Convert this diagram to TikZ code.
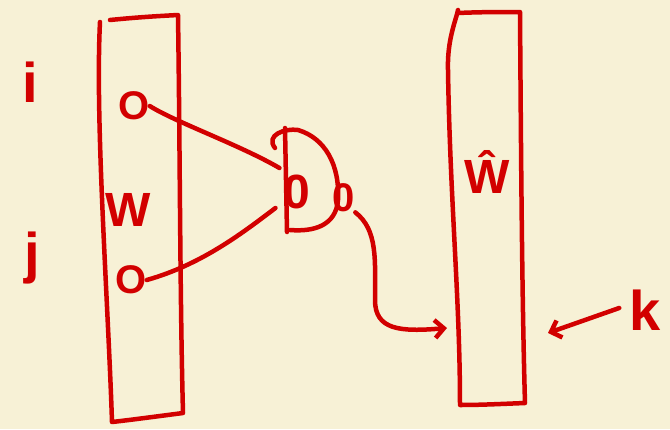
\documentclass[tikz,border=0pt]{standalone}
\usepackage{fontspec}
\setmainfont{Liberation Sans}
\usetikzlibrary{arrows.meta}
\definecolor{bg}{HTML}{F7F1D6}
\definecolor{ink}{HTML}{D20000}
\begin{document}
\begin{tikzpicture}[x=1pt,y=-1pt,
  inkline/.style={draw=ink,line width=4.5pt,line cap=round,line join=round},
  big/.style={text=ink,inner sep=0pt,font=\fontsize{56}{56}\selectfont\bfseries},
  lbl/.style={text=ink,inner sep=0pt,font=\fontsize{48}{48}\selectfont\bfseries},
  small/.style={text=ink,inner sep=0pt,font=\fontsize{40}{40}\selectfont\bfseries},
  barb/.style={-{Straight Barb[length=9pt,width=18pt,line width=4.5pt]}}]
\fill[bg] (0,0) rectangle (670,429);
\useasboundingbox (0,0) rectangle (670,429);
% left column box
\draw[inkline] (110,20) .. controls (140,17) and (160,16) .. (178,15)
  .. controls (180,150) and (180,300) .. (183,413)
  .. controls (160,416) and (130,420) .. (112,422)
  .. controls (108,300) and (95,120) .. (100,22);
% right column box
\draw[inkline] (458,13) .. controls (480,12) and (500,12) .. (520,12)
  .. controls (521,150) and (522,300) .. (525,403)
  .. controls (500,404) and (480,405) .. (460,405)
  .. controls (460,300) and (450,200) .. (448,70)
  .. controls (447,40) and (456,20) .. (458,10);
% labels outside
\node[big] (li) at (30,82) {i};
\node[big] (lj) at (32,258) {j};
\node[big] (k) at (645,310) {k};
% inside left box
\node[small] (oi) at (134,106) {O};
\node[lbl] (w) at (128,210) {W};
\node[small] (oj) at (131,280) {O};
% inside right box
\node[lbl] (wh) at (487,172) {Ŵ};
% gate
\draw[inkline] (285,128) -- (287,232);
\draw[inkline] (275,148) .. controls (265,135) and (285,128) .. (298,130)
  .. controls (325,138) and (340,165) .. (338,200)
  .. controls (336,225) and (315,232) .. (290,230);
\node[lbl] (gin) at (297,192) {0};
\node[small] (gout) at (344,198) {0};
% connectors
\draw[inkline] (oi.east) .. controls (175,122) and (240,145) .. ([yshift=24pt,xshift=-4pt]gin.west);
\draw[inkline] (oj.east) .. controls (200,265) and (240,235) .. ([yshift=-16pt,xshift=-8pt]gin.west);
\coordinate (kin) at (548,333);
\draw[inkline,barb] (gout.south east) .. controls (378,230) and (375,260) .. (375,300)
  .. controls (375,330) and (400,332) .. (447,328);
\draw[inkline,barb] ([xshift=-10pt,yshift=2pt]k.west) -- (kin);
\end{tikzpicture}
\end{document}
